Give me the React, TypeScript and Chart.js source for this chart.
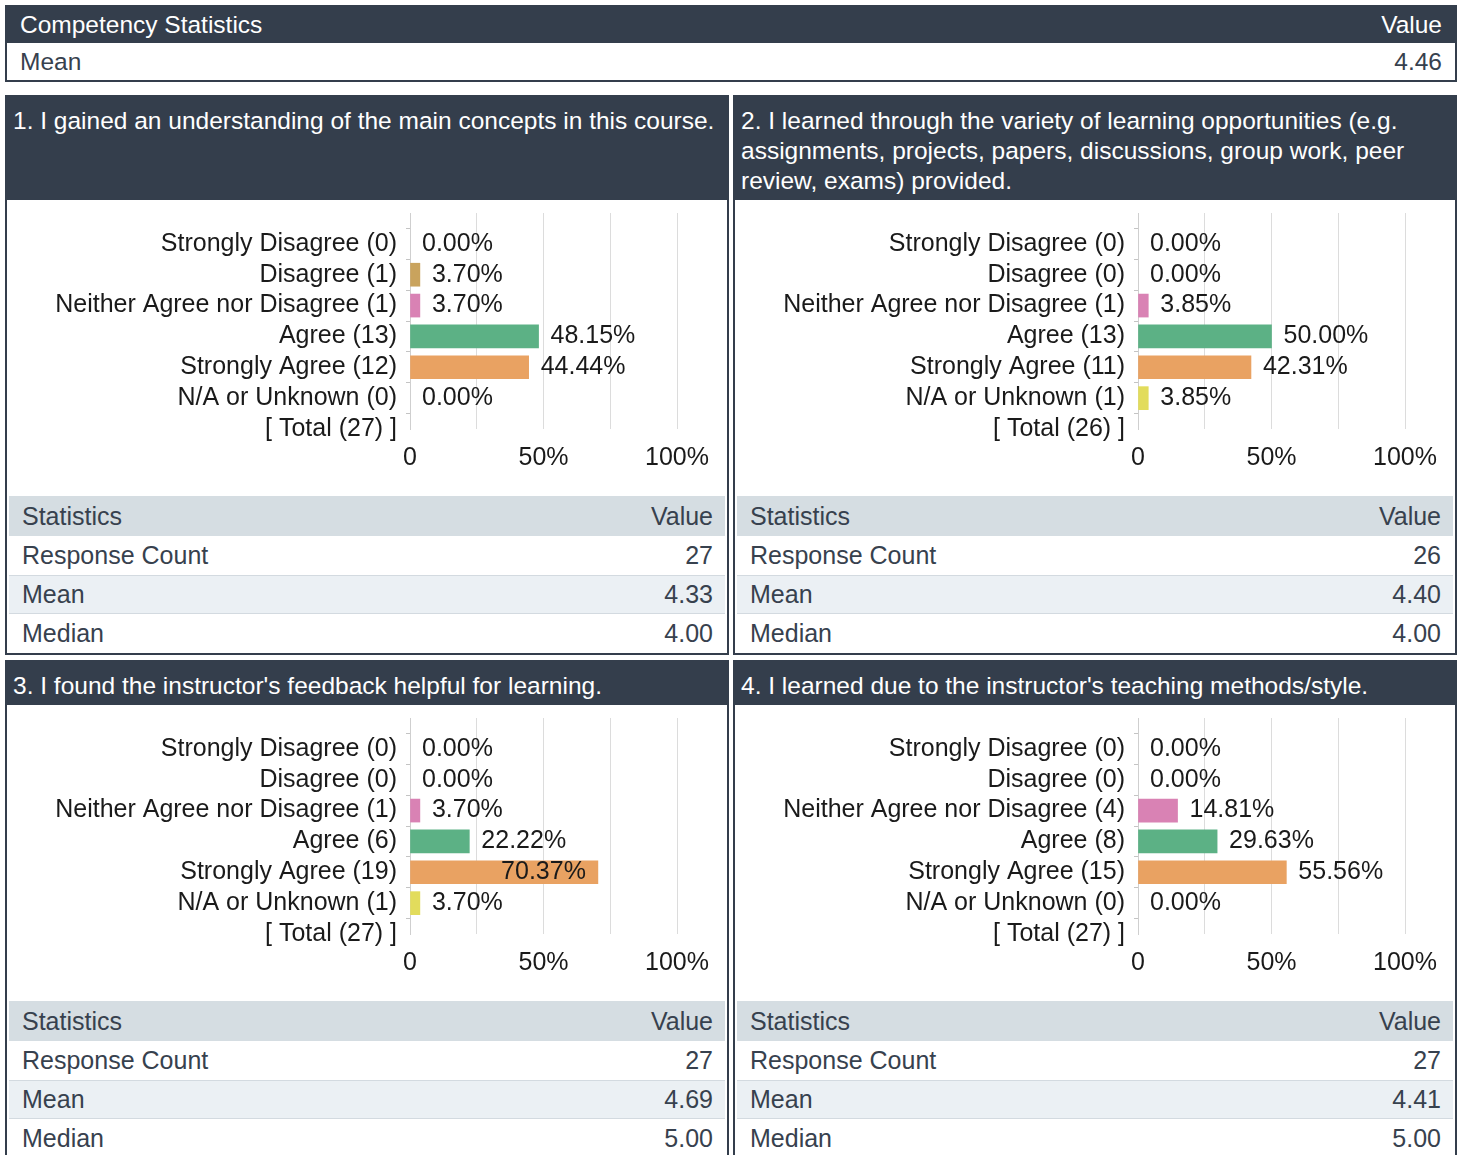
import React, { useEffect, useRef } from 'react';
import { Chart, registerables } from 'chart.js';
Chart.register(...registerables);

const FONT = "'Liberation Sans', Arial, sans-serif";
const DARK = '#343e4c';
const TEXT = '#37414e';

const categories = ['Strongly Disagree', 'Disagree', 'Neither Agree nor Disagree', 'Agree', 'Strongly Agree', 'N/A or Unknown'];
const barColors = ['#d9685f', '#c9a35d', '#d982b4', '#5cb185', '#e9a262', '#e2dc5c'];
const xTickLabels: Record<number, string> = { 0: '0', 50: '50%', 100: '100%' };

const questionTitles = [
  '1. I gained an understanding of the main concepts in this course.',
  '2. I learned through the variety of learning opportunities (e.g. assignments, projects, papers, discussions, group work, peer review, exams) provided.',
  "3. I found the instructor's feedback helpful for learning.",
  "4. I learned due to the instructor's teaching methods/style.",
];

const q1Counts = [0, 1, 1, 13, 12, 0];
const q1Percents = [0.0, 3.7, 3.7, 48.15, 44.44, 0.0];
const q2Counts = [0, 0, 1, 13, 11, 1];
const q2Percents = [0.0, 0.0, 3.85, 50.0, 42.31, 3.85];
const q3Counts = [0, 0, 1, 6, 19, 1];
const q3Percents = [0.0, 0.0, 3.7, 22.22, 70.37, 3.7];
const q4Counts = [0, 0, 4, 8, 15, 0];
const q4Percents = [0.0, 0.0, 14.81, 29.63, 55.56, 0.0];

const totals = [27, 26, 27, 27];
const responseCounts = ['27', '26', '27', '27'];
const means = ['4.33', '4.40', '4.69', '4.41'];
const medians = ['4.00', '4.00', '5.00', '5.00'];
const competencyMean = '4.46';

const allCounts = [q1Counts, q2Counts, q3Counts, q4Counts];
const allPercents = [q1Percents, q2Percents, q3Percents, q4Percents];

const CHART_FONT_SIZE = 25;
const CLEAR = 'rgba(0,0,0,0)';

const valueLabelPlugin = {
  id: 'valueLabels',
  afterDatasetsDraw(chart: any) {
    const ctx = chart.ctx;
    const meta = chart.getDatasetMeta(0);
    const data = chart.data.datasets[0].data;
    const area = chart.chartArea;
    ctx.save();
    ctx.font = `${CHART_FONT_SIZE}px ${FONT}`;
    ctx.fillStyle = '#1a1a1a';
    ctx.textBaseline = 'middle';
    meta.data.forEach((el: any, i: number) => {
      const v = data[i];
      if (v === null || v === undefined) return;
      const txt = v.toFixed(2) + '%';
      const w = ctx.measureText(txt).width;
      if (el.x + 12 + w > area.right) {
        ctx.textAlign = 'right';
        ctx.fillText(txt, el.x - 12, el.y);
      } else {
        ctx.textAlign = 'left';
        ctx.fillText(txt, el.x + 12, el.y);
      }
    });
    ctx.restore();
  },
};

function BarChart({ counts, percents, total }: { counts: number[]; percents: number[]; total: number }) {
  const ref = useRef<HTMLCanvasElement>(null);
  useEffect(() => {
    const labels = ['', ...categories.map((c, i) => `${c} (${counts[i]})`), `[ Total (${total}) ]`];
    const data = [null, ...percents, null];
    const colors = [CLEAR, ...barColors, CLEAR];
    const chart = new Chart(ref.current!, {
      type: 'bar',
      data: {
        labels,
        datasets: [{
          data,
          backgroundColor: (c: any) => (c.raw ? colors[c.dataIndex] : CLEAR),
          borderWidth: 0,
          barThickness: 23,
        }],
      },
      options: {
        indexAxis: 'y',
        animation: false,
        responsive: false,
        events: [],
        layout: { padding: { top: 13, right: 50, left: 0, bottom: 0 } },
        plugins: { legend: { display: false }, tooltip: { enabled: false } },
        scales: {
          x: {
            type: 'linear',
            min: 0,
            max: 100,
            ticks: {
              stepSize: 25,
              autoSkip: false,
              maxRotation: 0,
              padding: 14,
              color: '#1a1a1a',
              font: { size: CHART_FONT_SIZE, family: FONT },
              callback: (v: any) => (xTickLabels[v] !== undefined ? xTickLabels[v] : ''),
            },
            grid: { color: '#dcdcdc', drawTicks: false, lineWidth: 1 },
            border: { display: false },
            afterFit: (s: any) => { s.height = 67; s.paddingLeft = 0; s.paddingRight = 0; },
          },
          y: {
            type: 'category',
            offset: false,
            ticks: { autoSkip: false, padding: 9, color: '#1a1a1a', font: { size: CHART_FONT_SIZE, family: FONT } },
            grid: {
              drawOnChartArea: false,
              drawTicks: true,
              tickLength: 4,
              tickColor: (c: any) => (c.index === 0 ? CLEAR : '#c4c4c4'),
            },
            border: { display: true, color: '#cfcfcf' },
            afterFit: (s: any) => { s.width = 403; s.paddingTop = 0; s.paddingBottom = 0; },
          },
        },
      } as any,
      plugins: [valueLabelPlugin],
    });
    return () => chart.destroy();
  }, []);
  return <canvas ref={ref} width={720} height={296} style={{ display: 'block', width: 720, height: 296 }} />;
}

const rowBase: React.CSSProperties = {
  display: 'flex',
  justifyContent: 'space-between',
  alignItems: 'center',
  padding: '0 12px 0 13px',
  boxSizing: 'border-box',
};

function Panel({ idx }: { idx: number }) {
  return (
    <div style={{ border: `2px solid ${DARK}`, boxSizing: 'border-box', display: 'flex', flexDirection: 'column', background: '#fff' }}>
      <div style={{ background: DARK, color: '#fff', padding: '9px 2px 4px 6px', lineHeight: '30px', fontSize: 24.5, flexGrow: 1 }}>
        {questionTitles[idx]}
      </div>
      <BarChart counts={allCounts[idx]} percents={allPercents[idx]} total={totals[idx]} />
      <div style={{ margin: '0 2px', color: TEXT, fontSize: 25 }}>
        <div style={{ ...rowBase, height: 40, background: '#d5dde2' }}>
          <span>Statistics</span>
          <span>Value</span>
        </div>
        <div style={{ ...rowBase, height: 39, background: '#fff' }}>
          <span>Response Count</span>
          <span>{responseCounts[idx]}</span>
        </div>
        <div style={{ ...rowBase, height: 39, background: '#ebf0f4', borderTop: '1px solid #d3dae0', borderBottom: '1px solid #d3dae0' }}>
          <span>Mean</span>
          <span>{means[idx]}</span>
        </div>
        <div style={{ ...rowBase, height: 39, background: '#fff' }}>
          <span>Median</span>
          <span>{medians[idx]}</span>
        </div>
      </div>
    </div>
  );
}

export default function App() {
  useEffect(() => {
    document.body.style.margin = '0';
  }, []);
  return (
    <div style={{ fontFamily: FONT, padding: '5px 0 0 5px', width: 1452 }}>
      <div style={{ border: `2px solid ${DARK}`, fontSize: 24.5 }}>
        <div style={{ ...rowBase, height: 36, background: DARK, color: '#fff', padding: '0 13px 0 13px' }}>
          <span>Competency Statistics</span>
          <span>Value</span>
        </div>
        <div style={{ ...rowBase, height: 37, background: '#fff', color: TEXT, padding: '0 13px 0 13px' }}>
          <span>Mean</span>
          <span>{competencyMean}</span>
        </div>
      </div>
      <div style={{ display: 'grid', gridTemplateColumns: '724px 724px', columnGap: 4, rowGap: 5, marginTop: 13 }}>
        {[0, 1, 2, 3].map((i) => (
          <Panel key={i} idx={i} />
        ))}
      </div>
    </div>
  );
}
